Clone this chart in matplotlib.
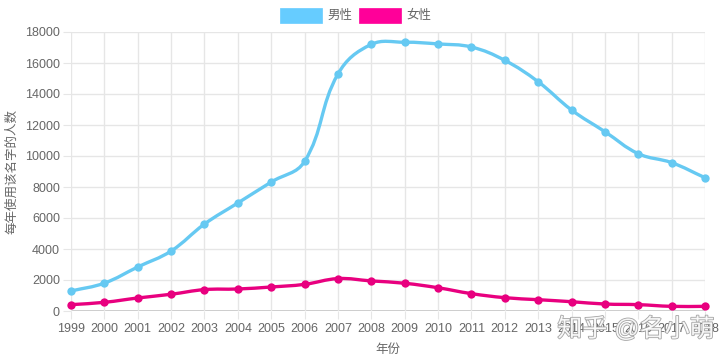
import numpy as np
import matplotlib
matplotlib.use("Agg")
import matplotlib.pyplot as plt
from matplotlib.path import Path
from matplotlib.patches import PathPatch, Rectangle
import matplotlib.patheffects as pe

plt.rcParams['font.family'] = ['Liberation Sans', 'Noto Sans CJK SC', 'DejaVu Sans']

years = list(range(1999, 2019))
male = [1290, 1800, 2840, 3870, 5610, 6970, 8320, 9650, 15290, 17200,
        17340, 17230, 17030, 16170, 14790, 12970, 11570, 10150, 9570, 8600]
female = [410, 560, 840, 1080, 1380, 1420, 1550, 1720, 2090, 1940,
          1790, 1500, 1120, 860, 730, 600, 450, 410, 300, 300]
series_names = ['男性', '女性']
line_colors = ['#66c9f2', '#e8007f']
fill_colors = ['#66ccff', '#ff0099']
y_ticks = list(range(0, 18001, 2000))

W, H = 720, 360
fig = plt.figure(figsize=(7.2, 3.6), dpi=100)
L, R, B, T = 71, 705, 311, 32
ax = fig.add_axes([L / W, 1 - B / H, (R - L) / W, (B - T) / H])
ax.set_xlim(years[0], years[-1])
ax.set_ylim(0, 18000)

grid_c = '#e6e6e6'
for s in ax.spines.values():
    s.set_visible(False)
ax.set_xticks(years)
ax.set_yticks(y_ticks)
ax.grid(True, color=grid_c, linewidth=1)
ax.axhline(0, color='#bfbfbf', linewidth=1.2, zorder=1)
ax.tick_params(axis='both', length=6, color=grid_c, labelcolor='#666666', labelsize=9)
ax.tick_params(axis='x', pad=3)
ax.tick_params(axis='y', pad=2)
ax.set_xticklabels([str(y) for y in years])
ax.set_xlabel('年份', color='#666666', fontsize=9, labelpad=6)
ax.set_ylabel('每年使用该名字的人数', color='#666666', fontsize=9, labelpad=5)

fig.canvas.draw()


def spline_path(xs, ys, tension=0.4):
    pts = ax.transData.transform(np.column_stack([xs, ys]))
    n = len(pts)
    cp_prev = pts.copy()
    cp_next = pts.copy()
    for i in range(n):
        p0 = pts[i - 1] if i > 0 else pts[i]
        p1 = pts[i]
        p2 = pts[i + 1] if i < n - 1 else pts[i]
        d01 = np.hypot(*(p1 - p0))
        d12 = np.hypot(*(p2 - p1))
        tot = d01 + d12
        s01 = d01 / tot if tot else 0
        s12 = d12 / tot if tot else 0
        cp_prev[i] = p1 - tension * s01 * (p2 - p0)
        cp_next[i] = p1 + tension * s12 * (p2 - p0)
    verts = [pts[0]]
    codes = [Path.MOVETO]
    for i in range(1, n):
        verts += [cp_next[i - 1], cp_prev[i], pts[i]]
        codes += [Path.CURVE4] * 3
    verts = ax.transData.inverted().transform(np.array(verts))
    return Path(verts, codes)


for vals, lc in zip([female, male], [line_colors[1], line_colors[0]]):
    p = spline_path(years, vals)
    ax.add_patch(PathPatch(p, facecolor='none', edgecolor=lc, linewidth=2.4,
                           zorder=3, capstyle='round', joinstyle='round'))
    ax.plot(years, vals, 'o', color=lc, markersize=6, zorder=4,
            markeredgewidth=0, clip_on=False)

# legend
for name, fc, bx in zip(series_names, fill_colors, [280, 359]):
    fig.patches.append(Rectangle((bx / W, 1 - 23 / H), 42 / W, 15 / H,
                                 transform=fig.transFigure, facecolor=fc,
                                 edgecolor=fc, linewidth=0.5))
    fig.text((bx + 47) / W, 1 - 15.5 / H, name, fontsize=9, color='#666666',
             va='center', ha='left')

# watermark
fig.text(636 / W, 1 - 329 / H, '知乎 @名小萌', fontsize=18, color='white',
         ha='center', va='center', alpha=0.9,
         path_effects=[pe.withStroke(linewidth=1.2, foreground='#9a9a9a')])

fig.savefig('out.png', dpi=100)
